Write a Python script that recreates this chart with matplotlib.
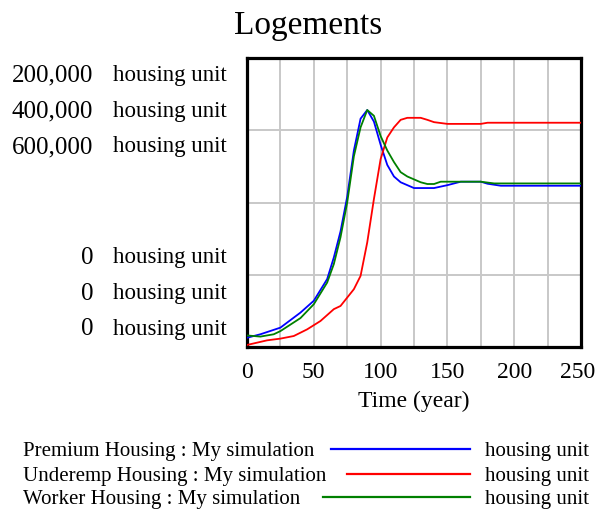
import numpy as np
import matplotlib
matplotlib.use("Agg")
import matplotlib.pyplot as plt
import matplotlib.transforms as mtransforms

plt.rcParams['font.family'] = ['Liberation Serif', 'DejaVu Serif']

# ------------------ DATA ------------------
time_premium = [0, 10, 25, 40, 50, 60, 65, 70, 75, 80, 85, 90, 95, 100, 105, 110,
                115, 125, 140, 150, 160, 175, 180, 190, 250]
premium = [6400, 8800, 13400, 23800, 32000, 47000, 62000, 80000, 104000, 136000,
           158000, 164000, 156000, 140000, 126000, 118000, 114000, 110000, 110000,
           112000, 114400, 114400, 113000, 111600, 111600]

time_underemp = [0, 15, 25, 35, 45, 55, 65, 70, 75, 80, 85, 90, 95, 100, 105, 110,
                 115, 120, 130, 135, 140, 150, 175, 180, 250]
underemp = [2800, 9200, 11600, 15200, 24400, 36000, 52400, 56800, 68400, 80000,
            98400, 144800, 204800, 260000, 290000, 304000, 314400, 317200, 317200,
            314400, 311200, 308800, 308800, 310400, 310400]

time_worker = [0, 10, 20, 25, 40, 50, 60, 65, 70, 75, 80, 85, 90, 95, 100, 105, 110,
               115, 120, 125, 130, 135, 140, 145, 175, 185, 250]
worker = [24000, 21600, 26400, 33000, 60000, 88800, 133800, 172200, 228000, 300000,
          396000, 456000, 492000, 480000, 438000, 408000, 384000, 363000, 354000,
          348000, 342000, 338400, 338400, 343200, 343200, 339600, 339600]

scale_max = [200000, 400000, 600000]
scale_labels = ["200,000", "400,000", "600,000"]
series_names = ["Premium Housing : My simulation",
                "Underemp Housing : My simulation",
                "Worker Housing : My simulation"]
series_colors = ["#0000ff", "#ff0000", "#008000"]
x_ticks = [0, 50, 100, 150, 200, 250]

# ------------------ PLOT ------------------
W, H = 597, 510
fig = plt.figure(figsize=(W / 100, H / 100), dpi=100)
ax = fig.add_axes([247 / W, 1 - 348 / H, (581 - 247) / W, (348 - 59) / H])

# frame axis: grid + x ticks only
ax.set_xlim(0, 250)
ax.set_ylim(0, 4)
ax.set_xticks(np.arange(0, 251, 25), minor=True)
ax.set_xticks(x_ticks)
ax.set_xticklabels([str(t) for t in x_ticks], fontsize=17)
ax.set_yticks([1, 2, 3])
ax.set_yticklabels([])
ax.tick_params(which='both', length=0, pad=10)
ax.grid(True, which='both', axis='x', color='#c8c8c8', linewidth=1.4)
ax.grid(True, which='major', axis='y', color='#c8c8c8', linewidth=1.4)
for s in ax.spines.values():
    s.set_linewidth(2.3)
ax.set_xlabel("Time (year)", fontsize=17, labelpad=6)

# keep the last tick label inside the picture
last = ax.get_xticklabels()[-1]
last.set_transform(last.get_transform() +
                   mtransforms.ScaledTranslation(-3 / 100, 0, fig.dpi_scale_trans))

# each series on its own scale, like the original
all_t = [time_premium, time_underemp, time_worker]
all_v = [premium, underemp, worker]
for i in range(3):
    a = ax.twinx()
    a.set_yticks([])
    a.set_frame_on(False)
    a.plot(all_t[i], all_v[i], color=series_colors[i], linewidth=1.3)
    a.set_ylim(0, scale_max[i])
    a.set_xlim(0, 250)

fig.text(308 / W, 1 - 26 / H, "Logements", fontsize=24, ha='center', va='center')

# stacked scale labels on the left
top_y = [75, 111, 147]
bot_y = [258, 294, 329]
for i in range(3):
    fig.text(93 / W, 1 - top_y[i] / H, scale_labels[i], fontsize=18, ha='right', va='center')
    fig.text(113 / W, 1 - top_y[i] / H, "housing unit", fontsize=16.5, ha='left', va='center')
    fig.text(93 / W, 1 - bot_y[i] / H, "0", fontsize=18, ha='right', va='center')
    fig.text(113 / W, 1 - bot_y[i] / H, "housing unit", fontsize=16.5, ha='left', va='center')

# legend rows
leg_y = [452, 477, 500]
line_y = [450, 475, 498]
line_start = [331, 347, 323]
for i in range(3):
    y = 1 - leg_y[i] / H
    ly = 1 - line_y[i] / H
    fig.text(23 / W, y, series_names[i], fontsize=15, ha='left', va='center')
    fig.add_artist(plt.Line2D([line_start[i] / W, 470 / W], [ly, ly],
                              color=series_colors[i], linewidth=1.6,
                              transform=fig.transFigure))
    fig.text(485 / W, y, "housing unit", fontsize=15, ha='left', va='center')

fig.savefig("out.png", dpi=100)
